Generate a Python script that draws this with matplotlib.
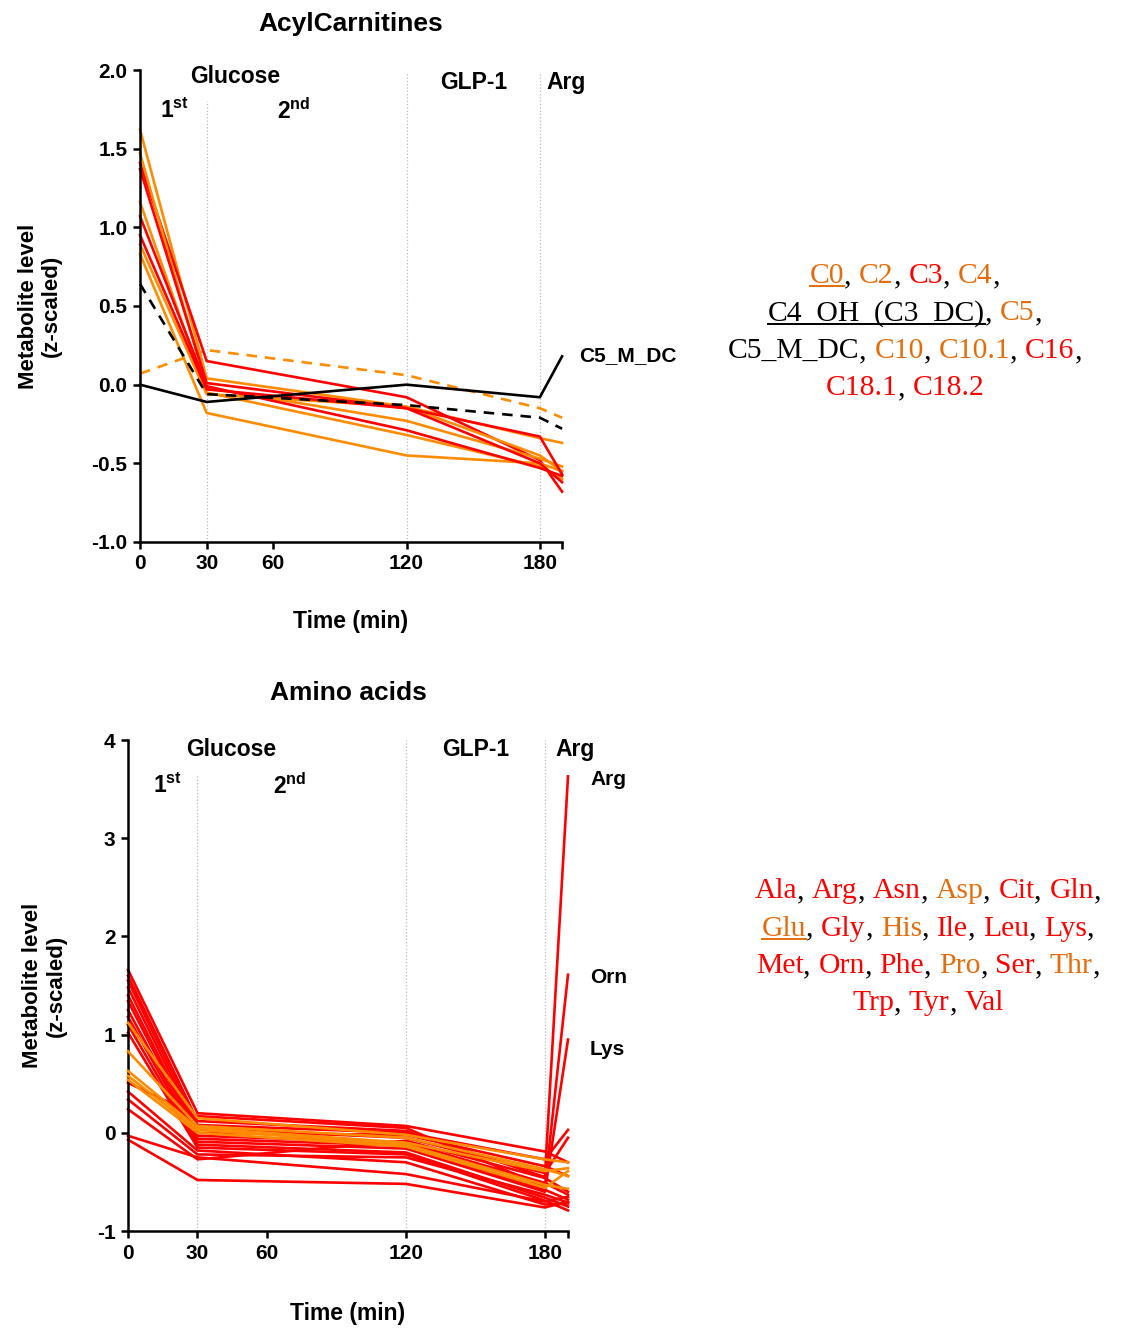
import numpy as np
import matplotlib
matplotlib.use('Agg')
import matplotlib.pyplot as plt
from matplotlib.lines import Line2D

plt.rcParams['font.family'] = ['Liberation Sans', 'DejaVu Sans']
plt.rcParams['font.weight'] = 'bold'
plt.rcParams['mathtext.fontset'] = 'custom'
plt.rcParams['mathtext.bf'] = 'Liberation Sans:bold'
plt.rcParams['mathtext.rm'] = 'Liberation Sans:bold'

RED = '#FF0000'
ORANGE = '#FF8C00'
TXT_ORANGE = '#E46C0A'

# time points (min)
time = [0, 30, 120, 180, 190]

# acylcarnitines (z-scaled)
acyl_names = ['C0', 'C2', 'C3', 'C4', 'C4_OH_(C3_DC)', 'C5', 'C5_M_DC',
              'C10', 'C10.1', 'C16', 'C18.1', 'C18.2']
acyl_colors = ['o', 'o', 'r', 'o', 'k', 'o', 'k', 'o', 'o', 'r', 'r', 'r']
acyl_dashed = ['C0', 'C4_OH_(C3_DC)']
acyl_values = {
    'C0':            [0.07, 0.22, 0.06, -0.15, -0.21],
    'C2':            [1.62, 0.04, -0.14, -0.34, -0.37],
    'C3':            [1.41, 0.15, -0.08, -0.48, -0.68],
    'C4':            [1.47, -0.02, -0.23, -0.47, -0.52],
    'C4_OH_(C3_DC)': [0.64, -0.06, -0.13, -0.21, -0.28],
    'C5':            [1.16, -0.05, -0.32, -0.52, -0.60],
    'C5_M_DC':       [0.00, -0.11, 0.00, -0.08, 0.18],
    'C10':           [0.89, -0.06, -0.14, -0.45, -0.55],
    'C10.1':         [0.83, -0.18, -0.45, -0.50, -0.55],
    'C16':           [1.37, 0.01, -0.15, -0.33, -0.57],
    'C18.1':         [1.07, -0.01, -0.29, -0.53, -0.58],
    'C18.2':         [0.95, -0.03, -0.15, -0.50, -0.62],
}

# amino acids (z-scaled)
aa_names = ['Ala', 'Arg', 'Asn', 'Asp', 'Cit', 'Gln', 'Glu', 'Gly', 'His', 'Ile',
            'Leu', 'Lys', 'Met', 'Orn', 'Phe', 'Pro', 'Ser', 'Thr', 'Trp', 'Tyr', 'Val']
aa_orange = ['Asp', 'Glu', 'His', 'Pro', 'Thr']
aa_values = {
    'Ala': [1.66, 0.20, 0.07, -0.19, -0.30],
    'Arg': [1.60, 0.12, 0.02, -0.45, 3.63],
    'Asn': [1.55, 0.08, 0.00, -0.27, 0.03],
    'Cit': [1.48, 0.04, -0.05, -0.41, -0.05],
    'Gln': [1.40, 0.00, -0.02, -0.34, -0.44],
    'Gly': [0.34, -0.22, -0.25, -0.63, -0.71],
    'Ile': [1.34, -0.03, -0.10, -0.51, -0.63],
    'Leu': [1.25, -0.06, -0.13, -0.58, -0.68],
    'Lys': [1.18, -0.09, -0.16, -0.60, 0.95],
    'Met': [1.10, -0.12, -0.20, -0.66, -0.75],
    'Orn': [0.51, 0.17, 0.05, -0.55, 1.61],
    'Phe': [1.02, -0.15, -0.22, -0.69, -0.79],
    'Ser': [0.42, -0.18, -0.30, -0.73, -0.72],
    'Trp': [-0.03, -0.25, -0.42, -0.70, -0.65],
    'Tyr': [0.24, -0.27, -0.08, -0.46, -0.60],
    'Val': [-0.07, -0.48, -0.52, -0.76, -0.70],
    'Asp': [1.12, 0.15, -0.02, -0.27, -0.30],
    'Glu': [0.83, 0.07, -0.05, -0.37, -0.44],
    'His': [0.63, 0.05, -0.10, -0.39, -0.36],
    'Pro': [0.58, 0.03, -0.12, -0.53, -0.57],
    'Thr': [0.54, 0.00, -0.14, -0.56, -0.39],
}

fig = plt.figure(figsize=(11.23, 13.31), dpi=100)
ax1 = fig.add_axes([0.1247, 0.5928, 0.3758, 0.3546])
ax2 = fig.add_axes([0.1140, 0.0751, 0.3918, 0.3689])

LW = 1.9


def style_axis(ax, ylim, yticks, ylabels):
    ax.set_xlim(0, 190)
    ax.set_ylim(*ylim)
    for s in ['top', 'right']:
        ax.spines[s].set_visible(False)
    for s in ['left', 'bottom']:
        ax.spines[s].set_linewidth(1.8)
    ax.set_xticks([0, 30, 60, 120, 180, 190])
    ax.set_xticklabels(['0', '30', '60', '120', '180', ''])
    ax.set_yticks(yticks)
    ax.set_yticklabels(ylabels)
    ax.tick_params(direction='out', length=5, width=1.8, labelsize=15, pad=4)
    for lab in ax.get_xticklabels() + ax.get_yticklabels():
        lab.set_fontweight('bold')
    ax.set_xlabel('Time (min)', fontsize=16.5, fontweight='bold')
    ax.set_ylabel('Metabolite level\n(z-scaled)', fontsize=16, fontweight='bold',
                  linespacing=1.15)


# ---- AcylCarnitines ----
style_axis(ax1, (-1.0, 2.0), [-1.0, -0.5, 0.0, 0.5, 1.0, 1.5, 2.0],
           ['-1.0', '-0.5', '0.0', '0.5', '1.0', '1.5', '2.0'])
ax1.xaxis.set_label_coords(0.5, -0.145)
ax1.yaxis.set_label_coords(-0.185, 0.5)
ax1.vlines(30, -1.0, 1.8, colors='#BBBBBB', linestyles=':', lw=0.9)
ax1.vlines([120, 180], -1.0, 1.99, colors='#BBBBBB', linestyles=':', lw=0.9)

cmap = {'o': ORANGE, 'r': RED, 'k': 'black'}
for name, c in zip(acyl_names, acyl_colors):
    ls = (0, (4, 3)) if name in acyl_dashed else '-'
    ax1.plot(time, acyl_values[name], color=cmap[c], lw=LW, ls=ls,
             clip_on=False, zorder=3 if c == 'k' else 2)

ax1.text(0.5, 1.097, 'AcylCarnitines', transform=ax1.transAxes, ha='center',
         va='center', fontsize=19, fontweight='bold')
ax1.text(42.7, 1.96, 'Glucose', ha='center', va='center', fontsize=16.5, fontweight='bold')
ax1.text(150, 1.92, 'GLP-1', ha='center', va='center', fontsize=16.5, fontweight='bold')
ax1.text(192, 1.92, 'Arg', ha='center', va='center', fontsize=16.5, fontweight='bold')
ax1.text(15.5, 1.74, r'$\mathbf{1^{st}}$', ha='center', va='center', fontsize=16.5)
ax1.text(69, 1.74, r'$\mathbf{2^{nd}}$', ha='center', va='center', fontsize=16.5)
ax1.text(197.5, 0.185, 'C5_M_DC', ha='left', va='center', fontsize=15, fontweight='bold')

# ---- Amino acids ----
style_axis(ax2, (-1, 4), [-1, 0, 1, 2, 3, 4], ['-1', '0', '1', '2', '3', '4'])
ax2.xaxis.set_label_coords(0.5, -0.145)
ax2.yaxis.set_label_coords(-0.14, 0.5)
ax2.vlines(30, -1, 3.64, colors='#BBBBBB', linestyles=':', lw=0.9)
ax2.vlines([120, 180], -1, 4.0, colors='#BBBBBB', linestyles=':', lw=0.9)

for name in aa_names:
    if name not in aa_orange:
        ax2.plot(time, aa_values[name], color=RED, lw=LW, clip_on=False, zorder=2)
for name in aa_orange:
    ax2.plot(time, aa_values[name], color=ORANGE, lw=LW, clip_on=False, zorder=3)

ax2.text(0.5, 1.096, 'Amino acids', transform=ax2.transAxes, ha='center',
         va='center', fontsize=19, fontweight='bold')
ax2.text(44.5, 3.9, 'Glucose', ha='center', va='center', fontsize=16.5, fontweight='bold')
ax2.text(150, 3.9, 'GLP-1', ha='center', va='center', fontsize=16.5, fontweight='bold')
ax2.text(193, 3.9, 'Arg', ha='center', va='center', fontsize=16.5, fontweight='bold')
ax2.text(17, 3.53, r'$\mathbf{1^{st}}$', ha='center', va='center', fontsize=16.5)
ax2.text(70, 3.53, r'$\mathbf{2^{nd}}$', ha='center', va='center', fontsize=16.5)
for lab, yv in [('Arg', 3.6), ('Orn', 1.58), ('Lys', 0.85)]:
    ax2.text(199.5, yv, lab, ha='left', va='center', fontsize=15, fontweight='bold')

# ---- coloured name lists on the right ----
renderer = fig.canvas.get_renderer()
W, H = fig.bbox.width, fig.bbox.height
LEG_FONT = dict(family='Liberation Serif', fontsize=21.3, fontweight='normal')


def draw_list(lines, xc_px, y0_px, dy_px):
    for i, parts in enumerate(lines):
        y = 1 - (y0_px + i * dy_px) / H
        objs = []
        for txt, col, und in parts:
            t = fig.text(0, y, txt, color=col, ha='left', va='baseline', **LEG_FONT)
            objs.append((t, und, col))
        widths = [t.get_window_extent(renderer).width for t, _, _ in objs]
        x = xc_px - sum(widths) / 2
        for (t, und, col), w in zip(objs, widths):
            t.set_x(x / W)
            if und:
                fig.add_artist(Line2D([x / W, (x + w) / W], [y - 3 / H, y - 3 / H],
                                      color=col, lw=1.4))
            x += w


def parts_from(items, colors, underline):
    out = []
    for k, (name, col) in enumerate(zip(items, colors)):
        out.append((name, col, name in underline))
        out.append((', ' if k < len(items) - 1 else ',', 'black', False))
    return out


acyl_cols = {'o': TXT_ORANGE, 'r': RED, 'k': 'black'}
acyl_rows = [acyl_names[0:4], acyl_names[4:6], acyl_names[6:10], acyl_names[10:12]]
lines = []
for r, row in enumerate(acyl_rows):
    p = parts_from(row, [acyl_cols[acyl_colors[acyl_names.index(n)]] for n in row],
                   acyl_dashed)
    if r == len(acyl_rows) - 1:
        p = p[:-1]
    lines.append(p)
draw_list(lines, 905, 283, 37.5)

aa_rows = [aa_names[0:6], aa_names[6:12], aa_names[12:18], aa_names[18:21]]
lines = []
for r, row in enumerate(aa_rows):
    p = parts_from(row, [TXT_ORANGE if n in aa_orange else RED for n in row], ['Glu'])
    if r == len(aa_rows) - 1:
        p = p[:-1]
    lines.append(p)
draw_list(lines, 928, 898, 37.5)

fig.savefig('out.png', dpi=100)
